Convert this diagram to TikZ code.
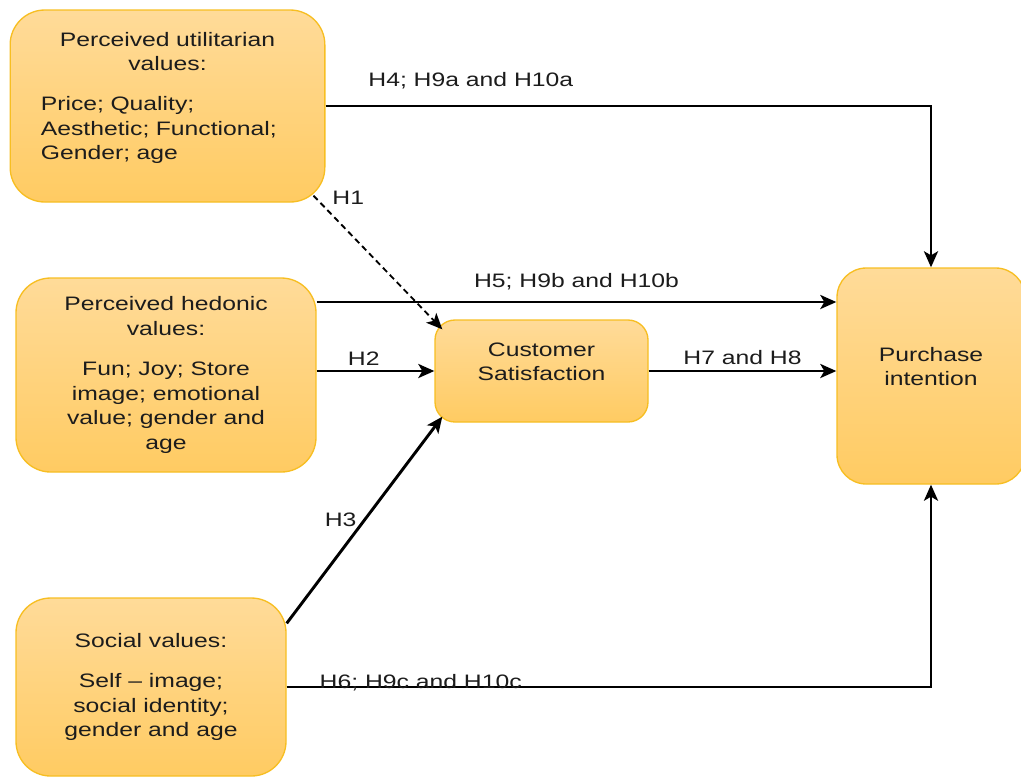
\documentclass[tikz,border=0pt]{standalone}
\usepackage{fontspec}
\setmainfont{Liberation Sans}[FakeStretch=1.27]
\usetikzlibrary{arrows.meta}
\definecolor{boxtop}{HTML}{FFDB99}
\definecolor{boxbot}{HTML}{FFCB62}
\definecolor{boxline}{HTML}{F7BE22}
\definecolor{ink}{HTML}{1C1C1C}

\begin{document}
\begin{tikzpicture}[x=0.75pt,y=-0.75pt,
  every node/.style={font=\fontsize{14.6}{18.4}\selectfont,text=ink},
  box/.style={draw=boxline,line width=1pt,top color=boxtop,bottom color=boxbot,rounded corners=26pt,align=center},
  lbl/.style={inner sep=0pt},
  arr/.style={draw=black,line width=2.2pt,-{Stealth[length=12pt,width=10.5pt,inset=3pt]}}]
  \useasboundingbox (0,0) rectangle (1021,776);

  % Value boxes
  \node[box,minimum width=236pt,minimum height=144pt,text width=190pt,align=left] (util) at (167.5,106)
    {{\centering Perceived utilitarian\\ values:\par}\vspace{11.6pt}Price; Quality;\\ Aesthetic; Functional;\\ Gender; age\par\vspace{12pt}\hrule height 0pt};
  \node[box,minimum width=225pt,minimum height=145.5pt] (hed) at (166,375)
    {Perceived hedonic\\ values:\\[11.6pt] Fun; Joy; Store\\ image; emotional\\ value; gender and\\ age};
  \node[box,minimum width=202.5pt,minimum height=133.5pt] (soc) at (151,687)
    {Social values:\\[11.6pt] Self \textendash\ image;\\ social identity;\\ gender and age};

  % Outcomes
  \node[box,minimum width=159.75pt,minimum height=76.5pt,rounded corners=15pt,text depth=14pt] (cust) at (541.5,371) {Customer\\ Satisfaction};
  \node[box,minimum width=141pt,minimum height=162pt,rounded corners=22pt,text depth=14pt] (purch) at (931,376) {Purchase\\ intention};

  % Hypotheses
  \draw[arr] (util.east) -| node[lbl,pos=0.12,above=12pt] {H4; H9a and H10a} (purch.north);
  \draw[arr,line width=1.4pt,dash pattern=on 4.5pt off 3pt] ([shift={(-12,-7)}]util.south east)
    -- node[lbl,pos=0,anchor=west,xshift=13.5pt,yshift=-1.5pt] {H1} ([shift={(8,10)}]cust.north west);
  \draw[arr] ([shift={(0,-73)}]hed.east) coordinate (h5) -- node[lbl,above=8pt] {H5; H9b and H10b} (h5 -| purch.west);
  \draw[arr] (hed.east |- cust.west) -- node[lbl,pos=0.4,above=3pt] {H2} (cust.west);
  \draw[arr] ([shift={(0,26)}]soc.north east) -- node[lbl,left=5pt] {H3} ([shift={(8,-6)}]cust.south west);
  \draw[arr] (cust.east) -- node[lbl,above=4pt] {H7 and H8} (cust.east -| purch.west);
  \draw[arr] (soc.east) -| node[lbl,pos=0.104,anchor=base,yshift=-1pt] {H6; H9c and H10c} (purch.south);
\end{tikzpicture}
\end{document}
